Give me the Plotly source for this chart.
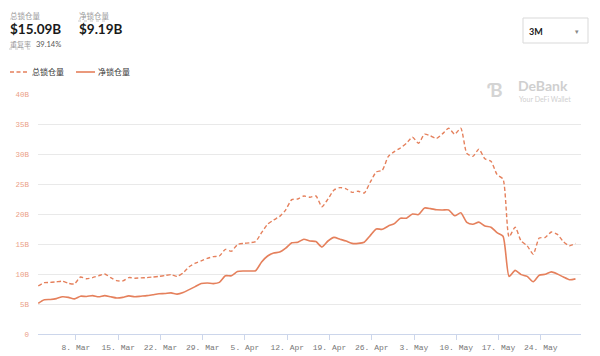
import plotly.graph_objects as go
import pandas as pd

start_date = "2021-03-01 18:00"
total_tvl = [8.0, 8.55, 8.6, 8.7, 8.8, 8.45, 8.35, 9.5, 9.2, 9.4,
             9.7, 10.0, 9.4, 8.9, 8.85, 9.4, 9.3, 9.35, 9.4, 9.5,
             9.6, 9.75, 9.9, 9.6, 10.2, 11.2, 11.8, 12.2, 12.6, 12.9,
             13.0, 14.1, 13.8, 14.9, 15.1, 15.2, 15.4, 16.9, 18.3, 19.0,
             19.6, 20.7, 22.4, 22.5, 23.0, 22.8, 23.0, 21.2, 22.5, 24.0,
             24.4, 24.2, 23.6, 23.8, 23.5, 25.3, 27.0, 27.3, 29.6, 30.4,
             31.0, 31.8, 32.8, 31.8, 33.3, 33.0, 32.6, 33.4, 34.3, 33.3,
             34.3, 30.1, 29.6, 30.8, 29.2, 28.8, 26.6, 25.8, 16.2, 17.8,
             15.5, 14.7, 13.3, 16.0, 16.1, 17.0, 16.6, 15.4, 14.7, 15.09]
net_tvl = [5.1, 5.7, 5.75, 5.9, 6.2, 6.1, 5.85, 6.3, 6.25, 6.4,
           6.2, 6.4, 6.2, 6.0, 6.1, 6.35, 6.2, 6.3, 6.4, 6.55,
           6.7, 6.75, 6.85, 6.65, 6.9, 7.4, 7.9, 8.4, 8.5, 8.4,
           8.6, 9.7, 9.7, 10.4, 10.5, 10.5, 10.55, 12.0, 13.0, 13.5,
           13.65, 14.3, 15.2, 15.3, 15.8, 15.5, 15.4, 14.5, 15.5, 16.1,
           15.8, 15.5, 15.1, 15.1, 15.3, 16.4, 17.5, 17.45, 18.0, 18.4,
           19.3, 19.3, 20.0, 19.9, 21.0, 20.9, 20.7, 20.67, 20.67, 19.7,
           20.2, 18.6, 18.3, 18.65, 18.0, 17.8, 16.9, 16.3, 9.6, 10.6,
           9.9, 9.6, 8.7, 9.8, 9.95, 10.35, 10.0, 9.5, 9.05, 9.19]
dates = pd.date_range(start_date, periods=len(total_tvl), freq="D")

y_tickvals = [0, 5, 10, 15, 20, 25, 30, 35, 40]
y_ticktext = ["0", "5B", "10B", "15B", "20B", "25B", "30B", "35B", "40B"]
series_names = ["总锁仓量", "净锁仓量"]
header_total = "$15.09B"
header_net = "$9.19B"
overlap_label = "重复率"
overlap_value = "39.14%"
period_label = "3M"

LINE = "#E5805C"
DASH = "4px,2.5px"
W, H = 600, 356
L, R, T, B = 38, 19, 94, 22
PW, PH = W - L - R, H - T - B


def px(x):
    return (x - L) / PW


def py(y):
    return (H - B - y) / PH


fig = go.Figure()
fig.add_trace(go.Scatter(x=dates, y=total_tvl, name=series_names[0], mode="lines",
                         line=dict(color=LINE, width=1.4, dash=DASH, shape="spline", smoothing=0.6)))
fig.add_trace(go.Scatter(x=dates, y=net_tvl, name=series_names[1], mode="lines",
                         line=dict(color=LINE, width=1.6, shape="spline", smoothing=0.6)))

CN = "Lato, Noto Sans CJK SC, sans-serif"
ann = []


def text(x, y, s, size, color, bold=False, anchor="left", font=CN):
    ann.append(dict(x=px(x), y=py(y), xref="paper", yref="paper", text=("<b>%s</b>" % s) if bold else s,
                    showarrow=False, xanchor=anchor, yanchor="middle", borderpad=0,
                    font=dict(size=size, color=color, family=font)))


text(9, 16, series_names[0], 7.5, "#9a9a9a")
text(9, 29, header_total, 13.5, "#1a1a1a", bold=True)
text(78, 16, series_names[1], 7.5, "#9a9a9a")
text(78, 29, header_net, 13.5, "#1a1a1a", bold=True)
text(9, 44, overlap_label, 7, "#9a9a9a")
text(35, 44, overlap_value, 7.5, "#555555")
text(528, 31, period_label, 9, "#222222", bold=True)
text(577, 31, "▾", 7, "#888888", anchor="center")
text(486, 89, "<b>Ɓ</b>", 19, "#d4d4d4")
text(517, 86, "DeBank", 14, "#cfcfcf", bold=True)
text(518, 99, "Your DeFi Wallet", 7, "#cfcfcf")
# legend labels
text(31, 72, series_names[0], 8, "#333333")
text(97, 72, series_names[1], 8, "#333333")

shapes = [
    dict(type="rect", xref="paper", yref="paper", x0=px(523), x1=px(588), y0=py(18), y1=py(43),
         line=dict(color="#d9d9d9", width=1), fillcolor="rgba(0,0,0,0)"),
    dict(type="line", xref="paper", yref="paper", x0=px(78), x1=px(108), y0=py(21), y1=py(21),
         line=dict(color="#bbbbbb", width=0.8, dash="dot")),
    dict(type="line", xref="paper", yref="paper", x0=px(9), x1=px(31), y0=py(49), y1=py(49),
         line=dict(color="#bbbbbb", width=0.8, dash="dot")),
    # legend samples
    dict(type="line", xref="paper", yref="paper", x0=px(10), x1=px(29), y0=py(72), y1=py(72),
         line=dict(color=LINE, width=1.4, dash=DASH)),
    dict(type="line", xref="paper", yref="paper", x0=px(76), x1=px(95), y0=py(72), y1=py(72),
         line=dict(color=LINE, width=1.6)),
]

fig.update_layout(
    width=W, height=H,
    margin=dict(l=L, r=R, t=T, b=B, autoexpand=False),
    paper_bgcolor="white", plot_bgcolor="white",
    showlegend=False,
    annotations=ann, shapes=shapes,
    xaxis=dict(type="date", range=["2021-03-01 17:00", "2021-05-30 16:00"],
               tick0="2021-03-08", dtick=7 * 86400000, tickformat="%-d. %b",
               showgrid=False, showline=True, linecolor="#ccd6eb", linewidth=1,
               ticks="outside", ticklen=5, tickcolor="#ccd6eb",
               tickfont=dict(size=8, color="#777777", family="Liberation Mono"),
               zeroline=False, fixedrange=True, automargin=False),
    yaxis=dict(range=[0, 40], tickvals=y_tickvals, ticktext=y_ticktext,
               showgrid=True, gridcolor="#e9e9e9", gridwidth=1, zeroline=False,
               tickfont=dict(size=7.5, color="#EBA088", family="Liberation Mono"),
               ticklabelstandoff=8, fixedrange=True, automargin=False),
)

fig.write_html("out.html")
